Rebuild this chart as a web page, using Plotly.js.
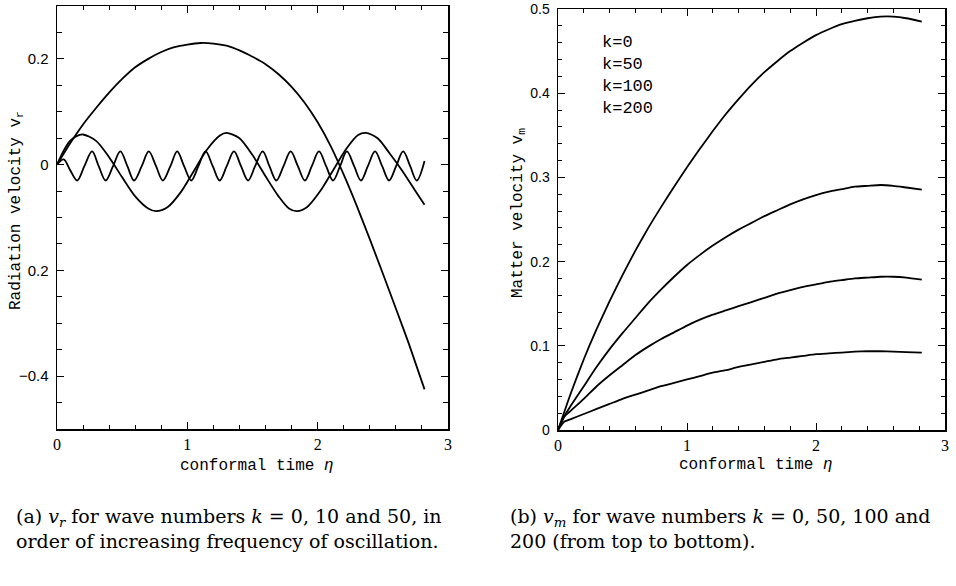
<!DOCTYPE html>
<html>
<head>
<meta charset="utf-8">
<script src="https://cdn.plot.ly/plotly-3.0.1.min.js"></script>
<style>html,body{margin:0;padding:0;background:#fff;}#chart{width:956px;height:586px;}</style>
</head>
<body>
<div id="chart"></div>
<script>
// ---- Panel (a): radiation velocity v_r ----
const etaK0 = [0, 0.1, 0.2, 0.3, 0.4, 0.5, 0.6, 0.7, 0.8, 0.9, 1.0, 1.1, 1.2, 1.3, 1.4, 1.5, 1.6, 1.7, 1.8, 1.9, 2.0, 2.1, 2.2, 2.3, 2.4, 2.5, 2.6, 2.7, 2.82];
const vrK0  = [0, 0.040, 0.076, 0.107, 0.136, 0.162, 0.184, 0.200, 0.213, 0.222, 0.227, 0.230, 0.229, 0.225, 0.216, 0.204, 0.190, 0.171, 0.147, 0.117, 0.080, 0.035, -0.019, -0.078, -0.141, -0.206, -0.272, -0.339, -0.425];

const etaK10 = [0, 0.05, 0.1, 0.15, 0.2, 0.3, 0.4, 0.5, 0.6, 0.7, 0.76, 0.85, 0.95, 1.05, 1.15, 1.25, 1.30, 1.40, 1.50, 1.60, 1.70, 1.78, 1.84, 1.92, 2.02, 2.12, 2.22, 2.31, 2.37, 2.46, 2.55, 2.65, 2.75, 2.82];
const vrK10  = [0, 0.026, 0.045, 0.054, 0.057, 0.045, 0.014, -0.024, -0.060, -0.083, -0.088, -0.080, -0.052, -0.012, 0.028, 0.055, 0.060, 0.050, 0.018, -0.022, -0.060, -0.083, -0.088, -0.080, -0.050, -0.010, 0.030, 0.056, 0.060, 0.050, 0.022, -0.012, -0.050, -0.076];

const etaK50 = [0, 0.051, 0.10, 0.155, 0.21, 0.269, 0.32, 0.373, 0.43, 0.486, 0.54, 0.591, 0.65, 0.704, 0.76, 0.812, 0.87, 0.922, 0.975, 1.030, 1.085, 1.140, 1.195, 1.248, 1.302, 1.358, 1.412, 1.466, 1.520, 1.578, 1.630, 1.683, 1.738, 1.793, 1.848, 1.902, 1.955, 2.010, 2.065, 2.118, 2.172, 2.224, 2.280, 2.332, 2.385, 2.440, 2.495, 2.548, 2.602, 2.656, 2.710, 2.760, 2.82];
const vrK50  = [0, 0.010, -0.010, -0.030, -0.003, 0.025, -0.003, -0.030, -0.003, 0.025, -0.003, -0.030, -0.003, 0.025, -0.003, -0.030, -0.003, 0.025, -0.003, -0.030, -0.003, 0.025, -0.003, -0.030, -0.003, 0.025, -0.003, -0.030, -0.003, 0.025, -0.003, -0.030, -0.003, 0.025, -0.003, -0.030, -0.003, 0.025, -0.003, -0.030, -0.003, 0.025, -0.003, -0.030, -0.003, 0.025, -0.003, -0.030, -0.003, 0.025, -0.003, -0.030, 0.007];

// ---- Panel (b): matter velocity v_m ----
const etaM   = [0, 0.05, 0.1, 0.2, 0.3, 0.4, 0.5, 0.6, 0.7, 0.8, 0.9, 1.0, 1.1, 1.2, 1.3, 1.4, 1.5, 1.6, 1.7, 1.8, 1.9, 2.0, 2.1, 2.2, 2.3, 2.4, 2.5, 2.6, 2.7, 2.82];
const vmK0   = [0, 0.022, 0.044, 0.084, 0.120, 0.153, 0.184, 0.213, 0.240, 0.265, 0.289, 0.312, 0.334, 0.355, 0.375, 0.393, 0.410, 0.425, 0.438, 0.450, 0.460, 0.469, 0.476, 0.482, 0.486, 0.489, 0.491, 0.491, 0.489, 0.485];
const vmK50  = [0, 0.017, 0.029, 0.052, 0.075, 0.096, 0.115, 0.133, 0.151, 0.167, 0.182, 0.196, 0.208, 0.219, 0.229, 0.238, 0.246, 0.254, 0.261, 0.268, 0.274, 0.279, 0.283, 0.286, 0.289, 0.290, 0.291, 0.290, 0.288, 0.2855];
const vmK100 = [0, 0.016, 0.023, 0.037, 0.052, 0.065, 0.077, 0.089, 0.099, 0.108, 0.116, 0.124, 0.131, 0.137, 0.142, 0.147, 0.152, 0.157, 0.162, 0.166, 0.170, 0.173, 0.176, 0.178, 0.180, 0.181, 0.182, 0.182, 0.181, 0.1785];
const vmK200 = [0, 0.010, 0.013, 0.019, 0.025, 0.031, 0.037, 0.042, 0.047, 0.052, 0.056, 0.060, 0.064, 0.068, 0.071, 0.075, 0.078, 0.081, 0.084, 0.086, 0.088, 0.090, 0.091, 0.092, 0.093, 0.0935, 0.0935, 0.093, 0.0925, 0.092];

const legendLabels = ['k=0', 'k=50', 'k=100', 'k=200'];
const leftYTickVals = [-0.4, -0.2, 0, 0.2];
const leftYTickText = ['\u22120.4', '0.2', '0', '0.2'];
const xTickVals = [0, 1, 2, 3];
const rightYTickVals = [0, 0.1, 0.2, 0.3, 0.4, 0.5];

function tr(x, y, xa, ya, smooth) {
  return {x: x, y: y, xaxis: xa, yaxis: ya, mode: 'lines',
    line: {color: '#000', width: 1.8, shape: 'spline', smoothing: smooth},
    showlegend: false, hoverinfo: 'skip'};
}
const data = [
  tr(etaK0, vrK0, 'x', 'y', 0.6),
  tr(etaK10, vrK10, 'x', 'y', 0.8),
  tr(etaK50, vrK50, 'x', 'y', 1),
  tr(etaM, vmK0, 'x2', 'y2', 0.5),
  tr(etaM, vmK50, 'x2', 'y2', 0.5),
  tr(etaM, vmK100, 'x2', 'y2', 0.5),
  tr(etaM, vmK200, 'x2', 'y2', 0.5)
];

const tickFontY = {family: 'Liberation Sans, Arial, sans-serif', size: 15, color: '#000'};
const tickFontY2 = {family: 'Liberation Sans, Arial, sans-serif', size: 14, color: '#000'};
const tickFontX = {family: 'Liberation Serif, serif', size: 16, color: '#000'};
function axisBase(extra) {
  return Object.assign({
    showline: true, linecolor: '#000', linewidth: 1.5, mirror: 'allticks',
    ticks: 'inside', ticklen: 7, tickwidth: 1, tickcolor: '#000',
    showgrid: false, zeroline: false, fixedrange: true, ticklabeloverflow: 'allow'
  }, extra);
}

const layout = {
  width: 956, height: 586,
  margin: {l: 0, r: 0, t: 0, b: 0},
  paper_bgcolor: '#fff', plot_bgcolor: '#fff',
  showlegend: false,
  xaxis: axisBase({domain: [57/956, 448/956], range: [0, 3], tickmode: 'array', tickvals: xTickVals,
    tickfont: tickFontX, ticklabelstandoff: 0, anchor: 'y',
    minor: {tick0: 0, dtick: 0.2, ticks: 'inside', ticklen: 4, tickcolor: '#000', showgrid: false}}),
  yaxis: axisBase({domain: [1 - 429/586, 1 - 6/586], range: [-0.5, 0.3], tickmode: 'array',
    tickvals: leftYTickVals, ticktext: leftYTickText, tickfont: tickFontY, ticklabelstandoff: 4, anchor: 'x',
    minor: {tick0: 0, dtick: 0.05, ticks: 'inside', ticklen: 5, tickcolor: '#000', showgrid: false}}),
  xaxis2: axisBase({domain: [558/956, 945/956], range: [0, 3], tickmode: 'array', tickvals: xTickVals,
    tickfont: tickFontX, ticklabelstandoff: 0, anchor: 'y2',
    minor: {tick0: 0, dtick: 0.2, ticks: 'inside', ticklen: 4, tickcolor: '#000', showgrid: false}}),
  yaxis2: axisBase({domain: [1 - 430/586, 1 - 9/586], range: [0, 0.5], tickmode: 'array',
    tickvals: rightYTickVals, tickfont: tickFontY2, ticklabelstandoff: 4, anchor: 'x2',
    minor: {tick0: 0, dtick: 0.02, ticks: 'inside', ticklen: 4, tickcolor: '#000', showgrid: false}}),
  annotations: []
};

const monoFont = {family: 'Liberation Mono, DejaVu Sans Mono, monospace', size: 16, color: '#000'};
const serifFont = {family: 'DejaVu Serif, Liberation Serif, serif', size: 19, color: '#000'};
function ann(text, x, y, font, extra) {
  return Object.assign({text: text, x: x, y: y, xref: 'paper', yref: 'paper', showarrow: false, font: font,
    xanchor: 'center', yanchor: 'middle'}, extra || {});
}
layout.annotations.push(ann('Radiation velocity v<sub>r</sub>', 16/956, 1 - 211/586, monoFont, {textangle: -90}));
layout.annotations.push(ann('Matter velocity v<sub>m</sub>', 519/956, 1 - 213/586, monoFont, {textangle: -90}));
layout.annotations.push(ann('conformal time <i>\u03b7</i>', 257/956, 1 - 466/586, monoFont));
layout.annotations.push(ann('conformal time <i>\u03b7</i>', 756/956, 1 - 465/586, monoFont));
layout.annotations.push(ann(legendLabels.join('<br>'), 600/956, 1 - 76/586,
  {family: 'Liberation Mono, DejaVu Sans Mono, monospace', size: 17, color: '#000'}, {xanchor: 'left', align: 'left'}));
const captionA = ['(a) <i>v<sub>r</sub></i> for wave numbers <i>k</i> = 0, 10 and 50, in',
                  'order of increasing frequency of oscillation.'];
const captionB = ['(b) <i>v<sub>m</sub></i> for wave numbers <i>k</i> = 0, 50, 100 and',
                  '200 (from top to bottom).'];
const capY = [517, 541];
captionA.forEach(function (t, i) {
  layout.annotations.push(ann(t, 14/956, 1 - capY[i]/586, serifFont, {xanchor: 'left', align: 'left'}));
});
captionB.forEach(function (t, i) {
  layout.annotations.push(ann(t, 508/956, 1 - capY[i]/586, serifFont, {xanchor: 'left', align: 'left'}));
});

Plotly.newPlot('chart', data, layout, {displayModeBar: false, staticPlot: true});
</script>
</body>
</html>
